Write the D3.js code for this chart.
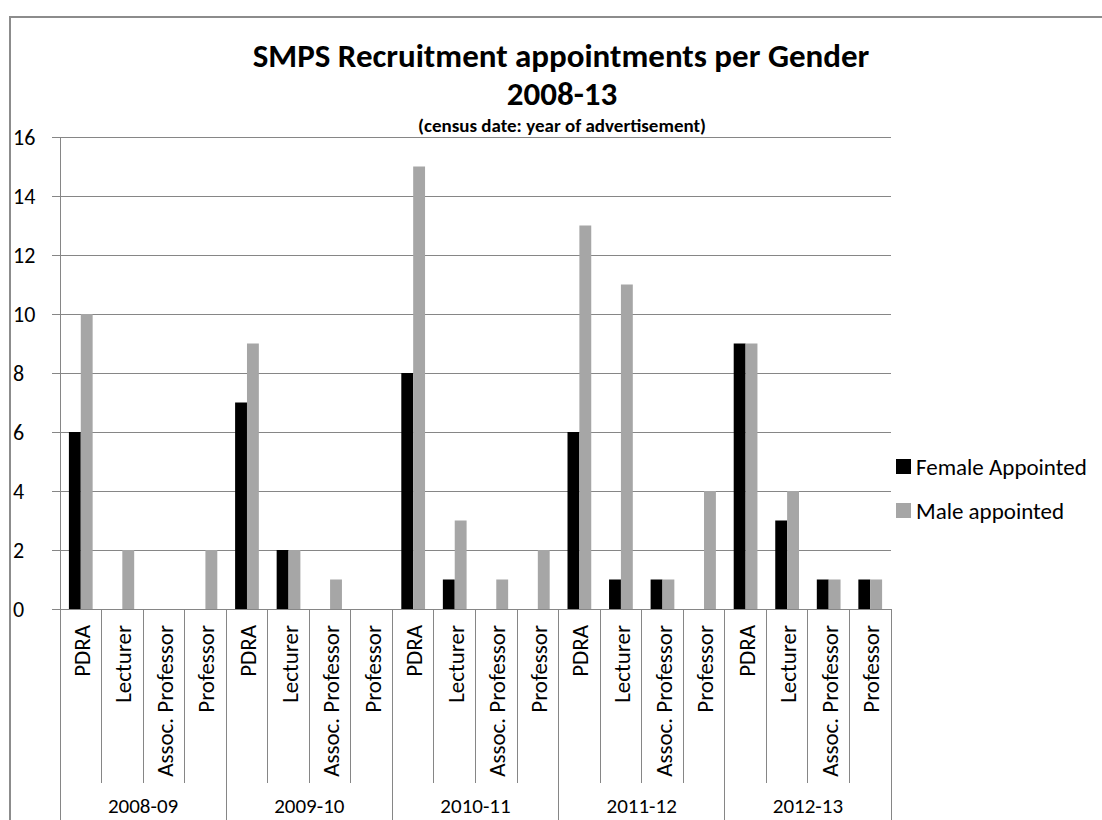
<!DOCTYPE html>
<html>
<head>
<meta charset="utf-8">
<script src="https://cdn.jsdelivr.net/npm/d3@7"></script>
<style>
  body { margin: 0; background: #fff; }
  svg { display: block; font-family: Carlito, Calibri, Lato, sans-serif; }
</style>
</head>
<body>
<svg id="chart"></svg>
<script>
// ### Data ###
var years = ['2008-09', '2009-10', '2010-11', '2011-12', '2012-13'];
var posts = ['PDRA', 'Lecturer', 'Assoc. Professor', 'Professor'];
var femaleAppointed = [6, 0, 0, 0,  7, 2, 0, 0,  8, 1, 0, 0,  6, 1, 1, 0,  9, 3, 1, 1];
var maleAppointed   = [10, 2, 0, 2, 9, 2, 1, 0, 15, 3, 1, 2, 13, 11, 1, 4, 9, 4, 1, 1];
var seriesNames = ['Female Appointed', 'Male appointed'];
var yTicks = [0, 2, 4, 6, 8, 10, 12, 14, 16];

// ### Canvas ###
var width = 1102, height = 820;
var svg = d3.select('#chart').attr('width', width).attr('height', height);

var plot = {left: 60, right: 891, top: 137, bottom: 609};
var gridColor = '#868686';

// outer chart frame (runs off the right and bottom edge)
svg.append('rect')
  .attr('x', 10).attr('y', 17)
  .attr('width', 1200).attr('height', 900)
  .attr('fill', 'none').attr('stroke', '#8c8c8c').attr('stroke-width', 2);

// one row per bar category
var rows = [];
years.forEach(function(y, i) {
  posts.forEach(function(p, j) {
    var k = i * posts.length + j;
    rows.push({key: y + '|' + p, year: y, post: p, f: femaleAppointed[k], m: maleAppointed[k]});
  });
});

// ### Scales ###
var xScale = d3.scaleBand()
  .domain(rows.map(d => d.key))
  .range([plot.left, plot.right])
  .paddingInner(0).paddingOuter(0);
var barScale = d3.scaleBand()
  .domain(seriesNames)
  .range([0, xScale.bandwidth()])
  .paddingOuter(0.75).paddingInner(0);
var yScale = d3.scaleLinear()
  .domain([0, 16])
  .range([plot.bottom, plot.top]);
var colorScale = d3.scaleOrdinal()
  .domain(seriesNames)
  .range(['#000000', '#a6a6a6']);

// ### Grid + y axis ###
// axis sits on the right edge so the tick lines run left across the plot
var yAxis = d3.axisRight(yScale)
  .tickValues(yTicks)
  .tickSize(-(plot.right - plot.left + 8))
  .tickFormat(d3.format('d'));
var gy = svg.append('g')
  .attr('transform', `translate(${plot.right},0)`)
  .call(yAxis);
gy.select('.domain').remove();
gy.selectAll('.tick line').attr('stroke', gridColor).attr('shape-rendering', 'crispEdges');
gy.selectAll('.tick text')
  .attr('x', 13 - plot.right)
  .attr('text-anchor', 'start')
  .attr('fill', '#000')
  .style('font-size', '22px')
  .style('font-family', 'Carlito, Calibri, Lato, sans-serif');

// y axis line
svg.append('line')
  .attr('x1', plot.left).attr('x2', plot.left)
  .attr('y1', plot.top).attr('y2', height + 10)
  .attr('stroke', gridColor).attr('shape-rendering', 'crispEdges');

// ### Bars ###
var groups = svg.selectAll('g.cat')
  .data(rows)
  .enter()
  .append('g')
  .attr('class', 'cat')
  .attr('transform', d => `translate(${xScale(d.key)},0)`);

groups.selectAll('rect')
  .data(d => [{s: seriesNames[0], v: d.f}, {s: seriesNames[1], v: d.m}].filter(b => b.v > 0))
  .enter()
  .append('rect')
  .attr('x', b => barScale(b.s))
  .attr('width', barScale.bandwidth())
  .attr('y', b => yScale(b.v))
  .attr('height', b => yScale(0) - yScale(b.v))
  .attr('fill', b => colorScale(b.s));

// ### Category axis (two levels) ###
var sepLines = d3.range(rows.length + 1);
svg.selectAll('line.sep')
  .data(sepLines)
  .enter()
  .append('line')
  .attr('class', 'sep')
  .attr('x1', i => i < rows.length ? xScale(rows[i].key) : plot.right)
  .attr('x2', i => i < rows.length ? xScale(rows[i].key) : plot.right)
  .attr('y1', plot.bottom)
  .attr('y2', i => i % posts.length === 0 ? height + 10 : 783)
  .attr('stroke', gridColor)
  .attr('shape-rendering', 'crispEdges');

svg.selectAll('text.post')
  .data(rows)
  .enter()
  .append('text')
  .attr('class', 'post')
  .attr('transform', d => `translate(${xScale(d.key) + xScale.bandwidth() / 2 + 1},625) rotate(-90)`)
  .attr('text-anchor', 'end')
  .attr('dy', '0.35em')
  .style('font-size', '23px')
  .text(d => d.post);

svg.selectAll('text.year')
  .data(years)
  .enter()
  .append('text')
  .attr('class', 'year')
  .attr('x', (y, i) => (xScale(rows[i * 4].key) + xScale(rows[i * 4 + 3].key) + xScale.bandwidth()) / 2)
  .attr('y', 813)
  .attr('text-anchor', 'middle')
  .style('font-size', '21px')
  .text(y => y);

// ### Title ###
svg.append('text')
  .attr('x', 561).attr('y', 67)
  .attr('text-anchor', 'middle')
  .style('font-size', '33px').style('font-weight', 'bold')
  .text('SMPS Recruitment appointments per Gender');
svg.append('text')
  .attr('x', 562).attr('y', 105)
  .attr('text-anchor', 'middle')
  .style('font-size', '33px').style('font-weight', 'bold')
  .text('2008-13');
svg.append('text')
  .attr('x', 562).attr('y', 132)
  .attr('text-anchor', 'middle')
  .style('font-size', '19px').style('font-weight', 'bold')
  .text('(census date: year of advertisement)');

// ### Legend ###
var legend = svg.selectAll('g.legend')
  .data(seriesNames)
  .enter()
  .append('g')
  .attr('class', 'legend')
  .attr('transform', (d, i) => `translate(896,${459 + i * 44})`);
legend.append('rect')
  .attr('width', 15).attr('height', 15)
  .attr('fill', d => colorScale(d));
legend.append('text')
  .attr('x', 20).attr('y', 7.5)
  .attr('dy', '0.35em')
  .style('font-size', '23px')
  .text(d => d);
</script>
</body>
</html>
